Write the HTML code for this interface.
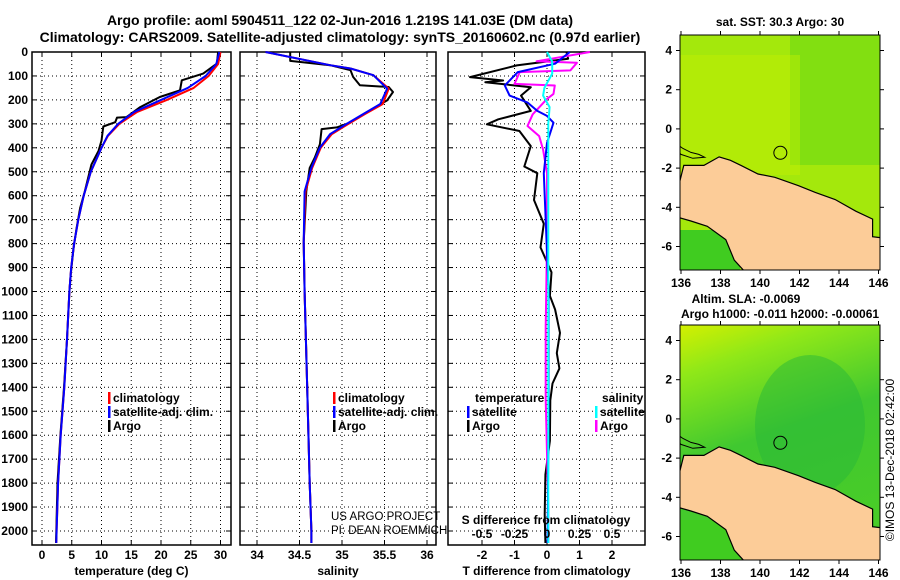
<!DOCTYPE html>
<html><head><meta charset="utf-8"><style>
html,body{margin:0;padding:0;background:#fff}
svg{display:block;font-family:"Liberation Sans",Arial,sans-serif}
text{font-weight:bold;font-size:12px;fill:#000}
</style></head><body>
<svg id="fig" width="900" height="580" viewBox="0 0 900 580">
<text x="340" y="25" text-anchor="middle" style="font-size:14px">Argo profile: aoml 5904511_122 02-Jun-2016 1.219S 141.03E (DM data)</text>
<text x="340" y="42" text-anchor="middle" style="font-size:14px">Climatology: CARS2009. Satellite-adjusted climatology: synTS_20160602.nc (0.97d earlier)</text>
<g id="panels"></g>
<g id="maps"></g>
</svg>
<script>
// ---------- data ----------
const depthTicks=[0,100,200,300,400,500,600,700,800,900,1000,1100,1200,1300,1400,1500,1600,1700,1800,1900,2000];
const tempTicks=[0,5,10,15,20,25,30];
const salTicks=[34,34.5,35,35.5,36];
const tdiffTicks=[-2,-1,0,1,2];
const sdiffTicks=[-0.5,-0.25,0,0.25,0.5];
const sdiffLabels=["-0.5","-0.25","0","0.25","0.5"];

const argoTDepth=[0,48,90,118,160,188,230,272,274,293,311,370,413,470,582,652,737,821,934,1000,1200,1400,1600,1800,2000,2050];
const argoT=[29.6,29.4,27.1,23.5,23.2,19.8,16.5,14.2,12.6,12.3,10.3,10,9.5,8.3,7.2,6.4,5.8,5.3,4.8,4.6,4.2,3.7,3.1,2.6,2.4,2.35];
const climDepth=[0,50,100,150,200,250,300,350,400,500,600,700,800,900,1000,1200,1400,1600,1800,2000,2050];
const climT=[30,29.6,28,25.5,21,16,13,11.1,10,8.2,7,6.1,5.4,4.9,4.6,4.2,3.75,3.15,2.7,2.45,2.4];
const satT=[29.8,29.3,27.5,24.5,20,15.5,12.8,11,10,8.2,7,6.1,5.4,4.9,4.6,4.2,3.75,3.15,2.7,2.45,2.4];

const argoSDepth=[0,37,55,76,104,139,146,167,202,252,294,315,322,385,441,484,582,793,1000,1400,1800,2000,2050];
const argoS=[34.39,34.39,34.86,35.1,35.13,35.21,35.55,35.6,35.53,35.29,35.1,34.94,34.76,34.74,34.68,34.62,34.58,34.55,34.56,34.59,34.62,34.64,34.64];
const climSDepth=[0,55,69,97,153,217,259,301,343,399,484,582,793,1000,1400,1800,2000,2050];
const climS=[34.1,34.86,35.1,35.37,35.55,35.48,35.27,35.07,34.88,34.75,34.65,34.57,34.55,34.56,34.59,34.62,34.64,34.64];
const satS=[34.1,34.86,35.1,35.37,35.53,35.45,35.25,35.05,34.86,34.74,34.64,34.56,34.55,34.56,34.59,34.62,34.64,34.64];

const argoTdDepth=[0,28,56,105,119,126,147,182,246,281,302,330,393,478,506,618,717,816,920,1018,1075,1173,1257,1321,1384,1454,1623,1764,1932,2050];
const argoTd=[0.6,0.65,-0.93,-2.37,-1.35,-1.9,-0.5,-0.8,-0.5,-1.5,-1.85,-0.85,-0.5,-0.7,-0.3,-0.4,-0.1,-0.2,0.14,0.09,0.25,0.4,0.3,0.38,0.17,0.1,0.09,-0.05,-0.07,-0.05];
const satTdDepth=[0,49,84,126,140,182,211,246,267,295,380,506,1000,1500,2050];
const satTd=[0.7,0.25,-0.9,-1.2,-1.3,-1.15,-0.6,-0.3,0,0.2,0,-0.1,0.05,0.05,0.02];
const argoSdDepth=[0,39,45,77,84,133,140,175,196,260,309,351,408,506,787,1150,1450,1900,2050];
const argoSd=[0.33,-0.08,0.23,0.18,-0.21,-0.25,0.06,0.05,0,-0.11,-0.15,-0.06,-0.03,0,0,-0.01,-0.01,0.01,0.01];
const satSdDepth=[0,40,90,150,182,230,300,600,1000,2050];
const satSd=[0,0.04,0.04,-0.02,-0.03,0.02,0.01,0.01,0.01,0.01];

const mapLonTicks=[136,138,140,142,144,146];
const mapLatTicks=[4,2,0,-2,-4,-6];
const coastLon=[135.93,136.14,137.16,137.93,138.5,139.04,139.9,140.75,141.95,142.8,143.8,144.85,145.7,145.7,146.1,146.1,139.2,138.7,138.27,137.33,136.5,135.93];
const coastLat=[-2.72,-1.86,-1.86,-1.43,-1.6,-1.86,-2.3,-2.47,-2.9,-3.24,-3.6,-4.2,-4.6,-5.5,-5.55,-7.25,-7.25,-6.7,-5.65,-4.97,-4.7,-4.53];
const islandLon=[135.9,136.1,136.5,136.9,137.2,136.6,136.0,135.9];
const islandLat=[-0.85,-1.0,-1.2,-1.3,-1.45,-1.5,-1.3,-1.2];
const argoLon=141.03, argoLat=-1.22;

// ---------- helpers ----------
const NS="http://www.w3.org/2000/svg";
const P=document.getElementById('panels'), M=document.getElementById('maps');
function mk(tag,attrs,parent,txt){const e=document.createElementNS(NS,tag);for(const k in attrs)e.setAttribute(k,attrs[k]);if(txt!==undefined)e.textContent=txt;parent.appendChild(e);return e;}
const plotTop=52, plotBot=545;
const dy=d=>plotTop+d*0.2395;
const panels=[
 {x0:32,x1:231,name:'temperature-panel',sx:v=>42+v*5.95,ticks:tempTicks,lab:'temperature (deg C)'},
 {x0:240,x1:436,name:'salinity-panel',sx:v=>257+(v-34)*85,ticks:salTicks,lab:'salinity'},
 {x0:448,x1:645,name:'difference-panel',sx:v=>547+v*32.5,ticks:tdiffTicks,lab:'T difference from climatology'}];
const sdx=v=>547+v*130;
panels.forEach((p,i)=>{
 const g=mk('g',{},P);
 
 
 depthTicks.forEach(d=>{const l=mk('line',{x1:p.x0,x2:p.x1,y1:dy(d),y2:dy(d),stroke:'#000','stroke-dasharray':'1,3'},g);
  
  
  mk('line',{x1:p.x0,x2:p.x0+5,y1:dy(d),y2:dy(d),stroke:'#000'},g);mk('line',{x1:p.x1-5,x2:p.x1,y1:dy(d),y2:dy(d),stroke:'#000'},g);});
 p.ticks.forEach((t,j)=>{const x=p.sx(t);
  const l=mk('line',{x1:x,x2:x,y1:plotTop,y2:plotBot,stroke:'#000','stroke-dasharray':'1,3'},g);
  
  
  mk('line',{x1:x,x2:x,y1:plotBot-5,y2:plotBot,stroke:'#000'},g);mk('line',{x1:x,x2:x,y1:plotTop,y2:plotTop+5,stroke:'#000'},g);
  const tx=mk('text',{x:x,y:559,'text-anchor':'middle'},g,String(t));
  
  });
 const fr=mk('rect',{x:p.x0,y:plotTop,width:p.x1-p.x0,height:plotBot-plotTop,fill:'none',stroke:'#000','stroke-width':1.5},g);
 
 
 const xl=mk('text',{x:(p.x0+p.x1)/2,y:575,'text-anchor':'middle'},g,p.lab);
 
 
});
depthTicks.forEach(d=>{const t=mk('text',{x:28,y:dy(d)+4,'text-anchor':'end'},P,String(d));
 
 });
function line(xs,ds,sx,color,name,w){
 const pts=xs.map((v,i)=>sx(v).toFixed(1)+','+dy(ds[i]).toFixed(1)).join(' ');
 const e=mk('polyline',{points:pts,fill:'none',stroke:color,'stroke-width':w||2,'stroke-linejoin':'round'},P);
 
 }
const s0=panels[0].sx,s1=panels[1].sx,s2=panels[2].sx;
line(argoT,argoTDepth,s0,'#000','argo-temperature-line');
line(climT,climDepth,s0,'#f00','climatology-temperature-line');
line(satT,climDepth,s0,'#00f','satellite-temperature-line');
line(argoS,argoSDepth,s1,'#000','argo-salinity-line');
line(climS,climSDepth,s1,'#f00','climatology-salinity-line');
line(satS,climSDepth,s1,'#00f','satellite-salinity-line');
line(argoTd,argoTdDepth,s2,'#000','argo-t-diff-line');
line(argoSd,argoSdDepth,sdx,'#f0f','argo-s-diff-line');
line(satTd,satTdDepth,s2,'#00f','satellite-t-diff-line');
line(satSd,satSdDepth,sdx,'#0ff','satellite-s-diff-line');
sdiffTicks.forEach((t,i)=>{const e=mk('text',{x:sdx(t),y:538,'text-anchor':'middle'},P,sdiffLabels[i]);
 
 });
const st=mk('text',{x:546,y:524,'text-anchor':'middle'},P,'S difference from climatology');


function leg(x,y,color,label,name){const g=mk('g',{},P);
 
 
 mk('rect',{x:x,y:y-10,width:2.5,height:12,fill:color},g);
 mk('text',{x:x+5,y:y},g,label);}
leg(108,402,'#f00','climatology','legend-climatology');
leg(108,416,'#00f','satellite-adj. clim.','legend-satellite');
leg(108,430,'#000','Argo','legend-argo');
leg(333,402,'#f00','climatology','legend-climatology-sal');
leg(333,416,'#00f','satellite-adj. clim.','legend-satellite-sal');
leg(333,430,'#000','Argo','legend-argo-sal');
const lt=mk('text',{x:475,y:402},P,'temperature');


const ls=mk('text',{x:602,y:402},P,'salinity');


leg(467,416,'#00f','satellite','legend-t-satellite');
leg(467,430,'#000','Argo','legend-t-argo');
leg(595,416,'#0ff','satellite','legend-s-satellite');
leg(595,430,'#f0f','Argo','legend-s-argo');
const c1=mk('text',{x:331,y:520,style:'font-weight:normal;font-size:11.5px'},P,'US ARGO PROJECT');


const c2=mk('text',{x:331,y:534,style:'font-weight:normal;font-size:11.5px'},P,'PI: DEAN ROEMMICH');



// ---------- maps ----------
const defs=mk('defs',{},M);
const lg=mk('linearGradient',{id:'slaG',x1:0,y1:0,x2:0.3,y2:1},defs);
mk('stop',{offset:0,'stop-color':'#d4f000'},lg);mk('stop',{offset:0.2,'stop-color':'#90e818'},lg);
mk('stop',{offset:0.55,'stop-color':'#40c830'},lg);mk('stop',{offset:1,'stop-color':'#48cc28'},lg);
function map(y0,name,fill){
 const x0=680,x1=880,y1=y0+235;
 const lx=v=>681+(v-136)*19.75, ly=v=>y0+15.5+(4-v)*19.6;
 const g=mk('g',{},M);
 
 
 const cpEl=mk('clipPath',{id:'clip'+y0},defs);
 mk('rect',{x:x0,y:y0,width:x1-x0,height:y1-y0},cpEl);
 const inner=mk('g',{'clip-path':'url(#clip'+y0+')'},g);
 fill(inner,x0,y0,x1,y1);
 const pts=coastLon.map((v,i)=>lx(v).toFixed(1)+','+ly(coastLat[i]).toFixed(1)).join(' ');
 const land=mk('polygon',{points:pts,fill:'#fccc98',stroke:'#000','stroke-width':1.2},inner);
 
 
 const ipts=islandLon.map((v,i)=>lx(v).toFixed(1)+','+ly(islandLat[i]).toFixed(1)).join(' ');
 const isl=mk('polygon',{points:ipts,fill:'none',stroke:'#000','stroke-width':1},inner);
 
 
 const ci=mk('circle',{cx:lx(argoLon),cy:ly(argoLat),r:6.5,fill:'none',stroke:'#000','stroke-width':1},g);
 
 
 mk('rect',{x:x0,y:y0,width:x1-x0,height:y1-y0,fill:'none',stroke:'#000','stroke-width':1},g);
 mapLonTicks.forEach(t=>{mk('line',{x1:lx(t),x2:lx(t),y1:y1,y2:y1+4,stroke:'#000'},g);mk('line',{x1:lx(t),x2:lx(t),y1:y0-4,y2:y0,stroke:'#000'},g);
  const e=mk('text',{x:lx(t),y:y1+17,'text-anchor':'middle'},g,String(t));
  
  });
 mapLatTicks.forEach(t=>{mk('line',{x1:x0-4,x2:x0,y1:ly(t),y2:ly(t),stroke:'#000'},g);mk('line',{x1:x1,x2:x1+4,y1:ly(t),y2:ly(t),stroke:'#000'},g);
  const e=mk('text',{x:672,y:ly(t)+4,'text-anchor':'end'},g,String(t));
  
  });
}
map(35,'sst-map',(g,x0,y0,x1,y1)=>{
 mk('rect',{x:x0,y:y0,width:x1-x0,height:y1-y0,fill:'#a4e80c'},g);
 mk('rect',{x:x0+110,y:y0,width:90,height:130,fill:'#58d418',opacity:0.45},g);
 mk('rect',{x:x0,y:y0+20,width:120,height:120,fill:'#c8f000',opacity:0.4},g);
 mk('rect',{x:x0,y:y0+195,width:60,height:40,fill:'#40cc20'},g);
});
map(325,'sla-map',(g,x0,y0,x1,y1)=>{
 mk('rect',{x:x0,y:y0,width:x1-x0,height:y1-y0,fill:'url(#slaG)'},g);
 mk('ellipse',{cx:x0+130,cy:y0+100,rx:55,ry:70,fill:'#28b838',opacity:0.5},g);
 mk('rect',{x:x0,y:y0+195,width:60,height:40,fill:'#40cc20'},g);
});
const t1=mk('text',{x:780,y:26,'text-anchor':'middle'},M,'sat. SST: 30.3 Argo: 30');


const t2=mk('text',{x:746,y:303,'text-anchor':'middle'},M,'Altim. SLA: -0.0069');


const t3=mk('text',{x:780,y:318,'text-anchor':'middle'},M,'Argo h1000: -0.011 h2000: -0.00061');


const t4=mk('text',{x:0,y:0,'text-anchor':'middle',transform:'translate(894,460) rotate(-90)',style:'font-weight:normal;font-size:12px'},M,'©IMOS 13-Dec-2018 02:42:00');


</script>
</body></html>
